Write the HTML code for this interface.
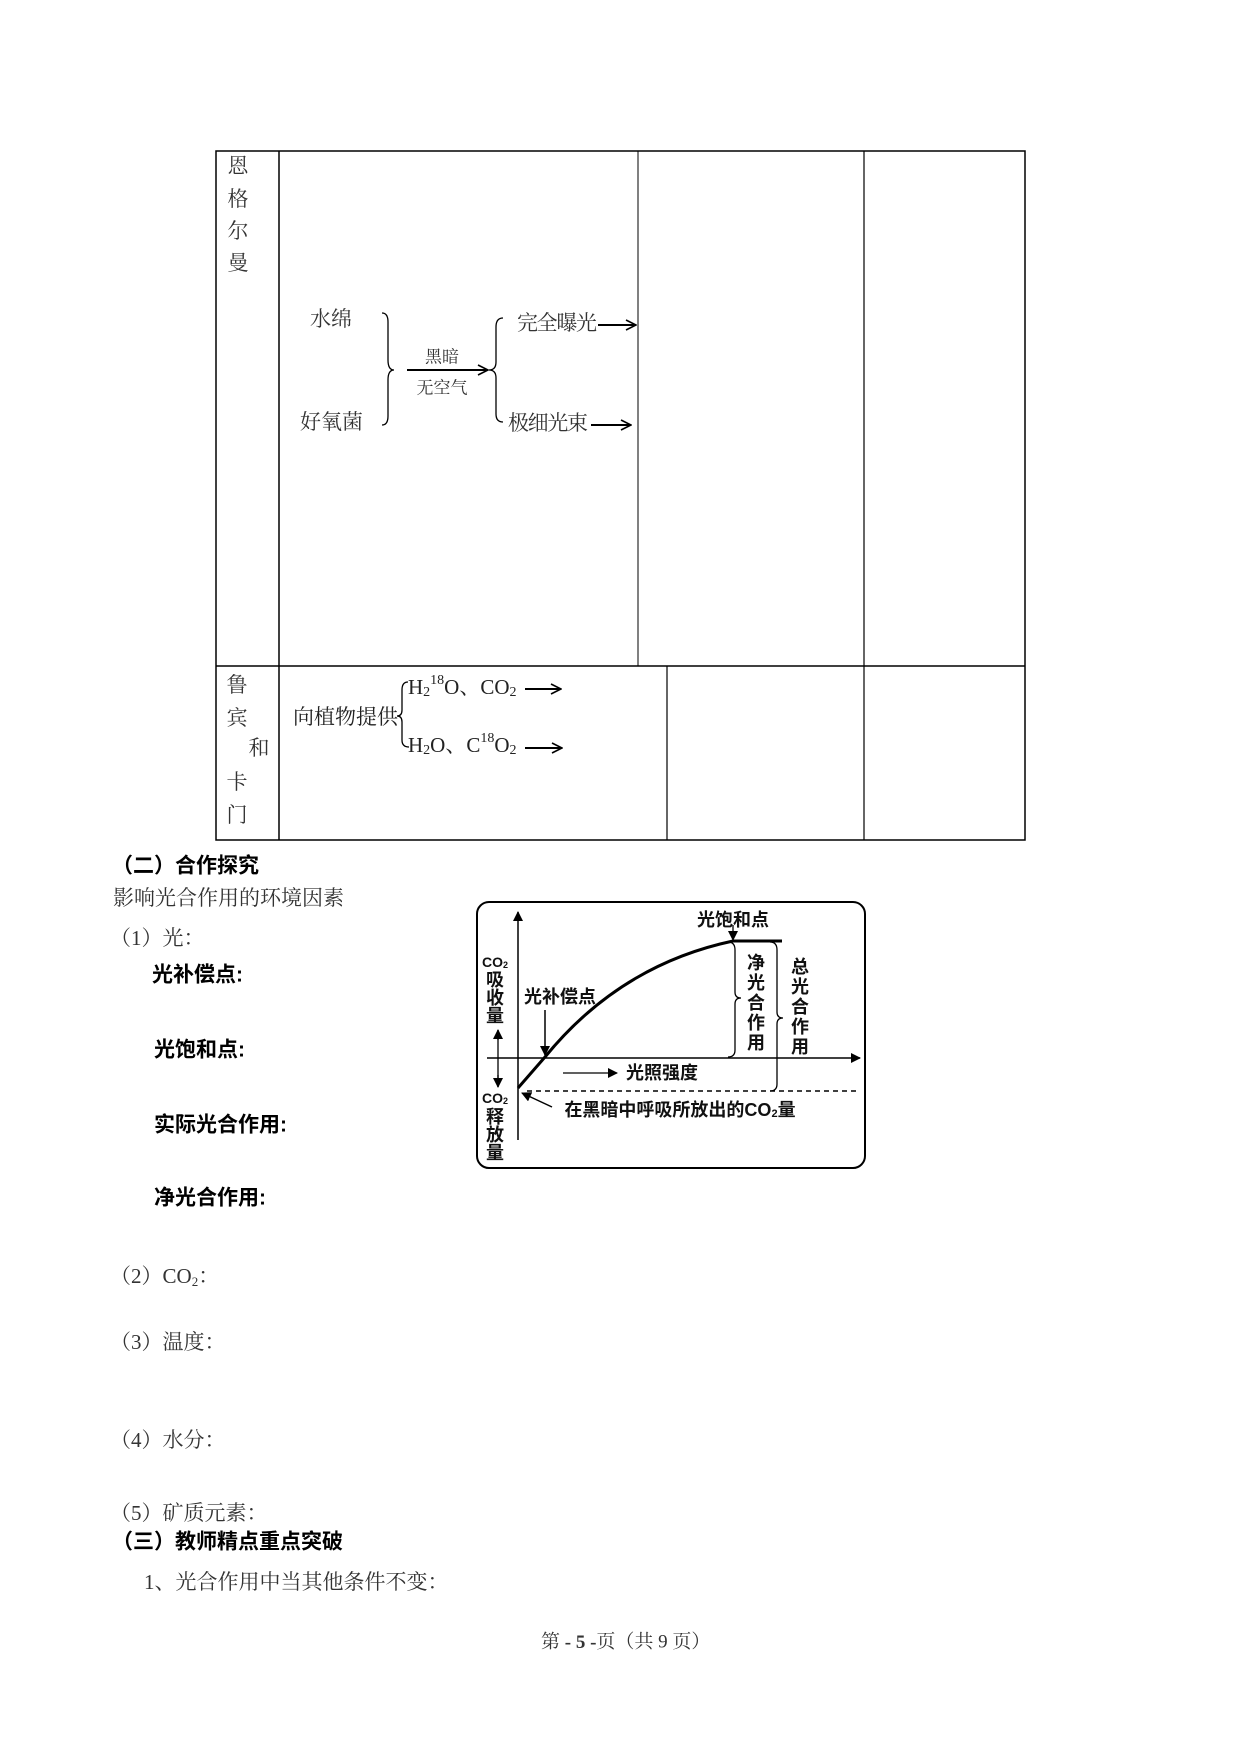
<!DOCTYPE html>
<html><head><meta charset="utf-8"><style>
html,body{margin:0;padding:0;background:#fff;}
svg{display:block;}
.s{font-family:"Liberation Serif","Noto Serif CJK SC",serif;font-size:21px;fill:#333;}
.b{font-family:"Liberation Sans","Noto Sans CJK SC",sans-serif;font-size:21px;font-weight:bold;fill:#000;}
.c{font-family:"Liberation Sans","Noto Sans CJK SC",sans-serif;font-size:18px;font-weight:bold;fill:#111;}
</style></head><body>
<svg width="1241" height="1755" viewBox="0 0 1241 1755" xmlns="http://www.w3.org/2000/svg">
<defs>
<marker id="oa" markerWidth="12" markerHeight="12" refX="11" refY="6" orient="auto" markerUnits="userSpaceOnUse"><path d="M1,1 L11,6 L1,11" fill="none" stroke="#000" stroke-width="1.6"/></marker>
<marker id="fa" markerWidth="10" markerHeight="10" refX="9" refY="5" orient="auto" markerUnits="userSpaceOnUse"><path d="M0,0 L10,5 L0,10 Z" fill="#000"/></marker>
</defs>
<g stroke="#000" fill="none">
<rect x="216" y="151" width="809" height="689" stroke-width="1.5"/>
<line x1="279" y1="151" x2="279" y2="840" stroke-width="1.5"/>
<line x1="216" y1="666" x2="1025" y2="666" stroke-width="1.5"/>
<line x1="638" y1="151" x2="638" y2="666" stroke-width="1"/>
<line x1="864" y1="151" x2="864" y2="840" stroke-width="1.2"/>
<line x1="667" y1="666" x2="667" y2="840" stroke-width="1.2"/>
</g>
<g class="s" dominant-baseline="central" text-anchor="middle">
<text x="238" y="166">恩</text><text x="238" y="199">格</text><text x="238" y="231">尔</text><text x="238" y="263">曼</text>
<text x="237" y="685">鲁</text><text x="237" y="718">宾</text><text x="259" y="748">和</text><text x="237" y="782">卡</text><text x="237" y="815">门</text>
</g>
<g class="s" dominant-baseline="central">
<text x="310" y="319">水绵</text>
<text x="300" y="422">好氧菌</text>
<text x="517" y="323" textLength="80">完全曝光</text>
<text x="508" y="423" textLength="80">极细光束</text>
<text x="442" y="357" text-anchor="middle" style="font-size:17px">黑暗</text>
<text x="442" y="388" text-anchor="middle" style="font-size:17px">无空气</text>
</g>
<g fill="none" stroke="#000" stroke-width="1.3">
<path d="M382,313 Q388,313 388,322 L388,360 Q388,370 394,370 Q388,370 388,380 L388,416 Q388,425 382,425"/>
<path d="M503,318 Q496,318 496,327 L496,362 Q496,370 489,370 Q496,370 496,378 L496,414 Q496,422 503,422"/>
</g>
<g stroke="#000" stroke-width="2" fill="none">
<line x1="407" y1="370" x2="488" y2="370" marker-end="url(#oa)"/>
<line x1="598" y1="325" x2="636" y2="325" marker-end="url(#oa)"/>
<line x1="591" y1="425" x2="631" y2="425" marker-end="url(#oa)"/>
<line x1="525" y1="689" x2="561" y2="689" marker-end="url(#oa)"/>
<line x1="525" y1="748" x2="562" y2="748" marker-end="url(#oa)"/>
</g>
<g class="s" dominant-baseline="central" style="fill:#222">
<text x="293" y="717">向植物提供</text>
<text x="408" y="687">H<tspan font-size="14" dy="5">2</tspan><tspan font-size="14" dy="-12">18</tspan><tspan dy="7">O、CO</tspan><tspan font-size="14" dy="5">2</tspan></text>
<text x="408" y="745">H<tspan font-size="14" dy="5">2</tspan><tspan dy="-5">O、C</tspan><tspan font-size="14" dy="-7">18</tspan><tspan dy="7">O</tspan><tspan font-size="14" dy="5">2</tspan></text>
</g>
<path d="M408,682 Q402,682 402,690 L402,710 Q402,716 397,716 Q402,716 402,722 L402,740 Q402,747 409,747" fill="none" stroke="#000" stroke-width="1.3"/>
<text class="b" x="112" y="866" dominant-baseline="central">（二）合作探究</text>
<g class="s" dominant-baseline="central">
<text x="113" y="898">影响光合作用的环境因素</text>
<text x="110" y="938">（1）光：</text>
<text x="110" y="1276">（2）CO<tspan font-size="13" dy="5">2</tspan><tspan dy="-5">：</tspan></text>
<text x="110" y="1342">（3）温度：</text>
<text x="110" y="1440">（4）水分：</text>
<text x="110" y="1513">（5）矿质元素：</text>
<text x="144" y="1582">1、光合作用中当其他条件不变：</text>
<text x="541" y="1642" style="font-size:19px">第 <tspan font-weight="bold">- 5 -</tspan>页（共 9 页）</text>
</g>
<g class="b" dominant-baseline="central">
<text x="152" y="975">光补偿点:</text>
<text x="154" y="1050">光饱和点:</text>
<text x="154" y="1125">实际光合作用:</text>
<text x="154" y="1198">净光合作用:</text>
<text x="112" y="1542">（三）教师精点重点突破</text>
</g>
<rect x="477" y="902" width="388" height="266" rx="12" fill="none" stroke="#000" stroke-width="2"/>
<g stroke="#000" fill="none">
<line x1="518" y1="1140" x2="518" y2="912" stroke-width="1.5" marker-end="url(#fa)"/>
<line x1="487" y1="1058" x2="860" y2="1058" stroke-width="1.5" marker-end="url(#fa)"/>
<line x1="527" y1="1091" x2="860" y2="1091" stroke-width="1.5" stroke-dasharray="5,4"/>
<path d="M518,1088 L545,1057 Q620,965 733,941 L782,941" stroke-width="3"/>
<line x1="733" y1="925" x2="733" y2="940" stroke-width="1.3" marker-end="url(#fa)"/>
<line x1="545" y1="1010" x2="545" y2="1055" stroke-width="1.5" marker-end="url(#fa)"/>
<line x1="498" y1="1040" x2="498" y2="1030" stroke-width="1.3" marker-end="url(#fa)"/>
<line x1="498" y1="1075" x2="498" y2="1087" stroke-width="1.3" marker-end="url(#fa)"/>
<line x1="498" y1="1030" x2="498" y2="1087" stroke-width="1.3"/>
<line x1="563" y1="1073" x2="617" y2="1073" stroke-width="1.3" marker-end="url(#fa)"/>
<line x1="552" y1="1107" x2="522" y2="1093" stroke-width="1.5" marker-end="url(#fa)"/>
<path d="M728,942 Q735,942 735,950 L735,992 Q735,998 741,998 Q735,998 735,1004 L735,1050 Q735,1057 728,1057" stroke-width="1.3"/>
<path d="M770,942 Q777,942 777,950 L777,1012 Q777,1018 783,1018 Q777,1018 777,1024 L777,1084 Q777,1091 770,1091" stroke-width="1.3"/>
</g>
<g class="c" text-anchor="middle" dominant-baseline="central">
<text x="733" y="920">光饱和点</text>
<text x="560" y="997">光补偿点</text>
<text x="662" y="1073">光照强度</text>
<text x="680" y="1110">在黑暗中呼吸所放出的CO<tspan font-size="11" dy="4">2</tspan><tspan dy="-4">量</tspan></text>
<text x="495" y="962" font-size="14">CO<tspan font-size="9" dy="3">2</tspan></text>
<text x="495" y="980">吸</text><text x="495" y="998">收</text><text x="495" y="1016">量</text>
<text x="495" y="1098" font-size="14">CO<tspan font-size="9" dy="3">2</tspan></text>
<text x="495" y="1117">释</text><text x="495" y="1135">放</text><text x="495" y="1153">量</text>
<text x="756" y="963">净</text><text x="756" y="983">光</text><text x="756" y="1003">合</text><text x="756" y="1023">作</text><text x="756" y="1043">用</text>
<text x="800" y="967">总</text><text x="800" y="987">光</text><text x="800" y="1007">合</text><text x="800" y="1027">作</text><text x="800" y="1047">用</text>
</g>
</svg>
</body></html>
